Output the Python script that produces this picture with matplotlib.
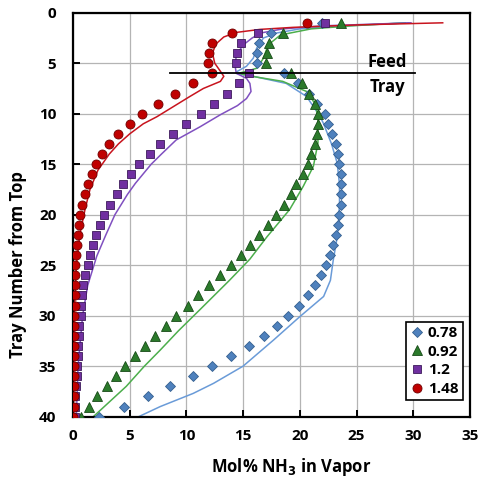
import matplotlib
matplotlib.use("Agg")
import matplotlib.pyplot as plt

plt.rcParams['font.family'] = ['Open Sans', 'DejaVu Sans']
plt.rcParams['font.weight'] = 'bold'

# ---- data ----
trays = list(range(1, 41))

labels = ['0.78', '0.92', '1.2', '1.48']

# measured points (mol% NH3 in vapor, one per tray)
pts_078 = [22.0, 17.5, 16.4, 16.25, 16.2, 18.6, 19.8, 20.8, 21.5, 22.2,
           22.5, 22.8, 23.2, 23.4, 23.5, 23.6, 23.6, 23.6, 23.6, 23.5,
           23.4, 23.2, 22.95, 22.65, 22.3, 21.9, 21.3, 20.7, 19.9, 19.0,
           18.0, 16.8, 15.5, 13.9, 12.3, 10.6, 8.6, 6.6, 4.5, 2.3]
pts_092 = [23.6, 18.5, 17.3, 17.1, 17.0, 19.2, 20.2, 20.8, 21.3, 21.6,
           21.6, 21.5, 21.3, 21.0, 20.75, 20.3, 19.7, 19.2, 18.6, 17.9,
           17.2, 16.4, 15.6, 14.8, 13.9, 13.0, 12.0, 11.05, 10.1, 9.1,
           8.2, 7.2, 6.35, 5.47, 4.6, 3.76, 2.97, 2.15, 1.41, 0.7]
pts_120 = [22.2, 16.3, 14.8, 14.5, 14.4, 15.5, 14.6, 13.6, 12.4, 11.3,
           10.0, 8.85, 7.7, 6.8, 5.85, 5.1, 4.4, 3.85, 3.26, 2.76,
           2.38, 2.06, 1.73, 1.53, 1.32, 1.06, 0.91, 0.82, 0.71, 0.68,
           0.56, 0.53, 0.47, 0.42, 0.37, 0.32, 0.27, 0.22, 0.18, 0.14]
pts_148 = [20.6, 14.0, 12.3, 12.0, 11.9, 12.3, 10.6, 9.0, 7.5, 6.1,
           5.0, 4.0, 3.2, 2.56, 2.03, 1.65, 1.35, 1.06, 0.82, 0.65,
           0.53, 0.44, 0.33, 0.26, 0.22, 0.19, 0.17, 0.15, 0.14, 0.13,
           0.12, 0.11, 0.10, 0.09, 0.08, 0.07, 0.06, 0.05, 0.05, 0.04]

# model curves (tray, mol%)
line_078_tray = [1.0, 1.3, 1.6, 2.0, 2.5, 3.5, 4.5, 5.3, 5.8, 6.0, 6.3, 7.0,
                 8.3, 10.3, 11.0, 13.0, 14.9, 17.0, 18.9, 21.0, 22.2, 24.5,
                 26.5, 28.1, 30.1, 32.4, 35.0, 36.7, 37.7, 39.0, 40.0]
line_078_x = [29.6, 24.0, 20.0, 18.0, 16.8, 16.2, 15.9, 15.3, 14.5, 14.4,
              15.9, 18.8, 20.6, 21.8, 22.1, 22.8, 23.3, 23.5, 23.5, 23.4,
              23.3, 22.95, 22.7, 22.1, 20.0, 17.7, 15.0, 12.4, 10.6, 7.7, 5.8]

line_092_tray = [1.0, 1.3, 1.6, 2.2, 3.2, 4.5, 5.5, 5.8, 6.0, 6.3, 6.8, 7.8,
                 9.1, 10.5, 11.6, 12.9, 15.2, 17.2, 19.5, 22.2, 24.4, 26.5,
                 29.4, 31.5, 33.4, 35.0, 37.0, 40.0]
line_092_x = [29.3, 24.5, 21.0, 18.3, 17.2, 16.8, 16.2, 15.3, 14.6, 15.8,
              18.5, 20.6, 21.4, 21.6, 21.6, 21.6, 21.2, 20.3, 19.1, 17.1,
              15.6, 13.8, 11.2, 9.3, 7.7, 6.3, 4.7, 1.8]

line_120_tray = [1.0, 1.3, 1.6, 2.0, 2.5, 3.2, 4.2, 5.3, 6.0, 6.5, 7.0, 7.8,
                 8.5, 9.2, 10.1, 11.3, 12.6, 14.0, 15.0, 16.9, 18.0, 20.0,
                 22.0, 24.1, 27.0, 30.0, 35.0, 40.0]
line_120_x = [29.8, 22.0, 18.5, 16.6, 15.8, 15.0, 14.4, 14.3, 14.4, 15.3,
              15.6, 15.7, 15.3, 14.5, 13.0, 11.2, 9.1, 7.8, 6.9, 5.5, 4.8,
              3.7, 2.9, 2.1, 1.3, 0.85, 0.45, 0.3]

line_148_tray = [1.0, 1.2, 1.45, 1.65, 1.95, 2.4, 3.1, 4.0, 5.0, 5.8, 6.3,
                 6.8, 7.5, 8.3, 9.3, 10.3, 11.0, 12.0, 13.0, 14.0, 15.6,
                 17.5, 19.5, 22.0, 25.0, 30.0, 35.0, 40.0]
line_148_x = [32.6, 25.3, 19.4, 16.5, 14.4, 13.3, 12.6, 12.3, 12.5, 13.0,
              13.3, 13.0, 11.5, 10.3, 8.85, 7.4, 6.2, 5.0, 4.0, 3.2, 2.2,
              1.5, 1.06, 0.6, 0.3, 0.1, 0.05, 0.03]

feed_tray = 6
feed_x = [8.55, 30.2]

# ---- styling ----
series = [
    (pts_078, line_078_tray, line_078_x, 'D', '#4f81bd', '#35608f', '#6a9bd8', 5.5),
    (pts_092, line_092_tray, line_092_x, '^', '#2b7a2b', '#174a17', '#4cae4c', 7.5),
    (pts_120, line_120_tray, line_120_x, 's', '#7030a0', '#3d1a5a', '#8050c0', 6.0),
    (pts_148, line_148_tray, line_148_x, 'o', '#c00000', '#6e0000', '#c8141e', 6.5),
]

fig = plt.figure(figsize=(4.8, 4.8), dpi=100)
ax = fig.add_axes([0.152, 0.132, 0.827, 0.8415])

for (pts, lt, lx, mk, fc, ec, lc, ms), lab in zip(series, labels):
    ax.plot(lx, lt, color=lc, lw=1.1, zorder=2)
for (pts, lt, lx, mk, fc, ec, lc, ms), lab in zip(series, labels):
    ax.plot(pts, trays, linestyle='none', marker=mk, markersize=ms,
            markerfacecolor=fc, markeredgecolor=ec, markeredgewidth=0.6,
            label=lab, zorder=3)

ax.plot(feed_x, [feed_tray, feed_tray], color='black', lw=1.3, zorder=4)
ax.text(27.7, 4.85, 'Feed', ha='center', va='center', fontsize=12,
        fontweight='bold', zorder=5)
ax.text(27.7, 7.4, 'Tray', ha='center', va='center', fontsize=12,
        fontweight='bold', zorder=5)

ax.set_xlim(0, 35)
ax.set_ylim(40, 0)
ax.set_xticks(range(0, 36, 5))
ax.set_yticks(range(0, 41, 5))
ax.grid(True, color='#b4b4b4', lw=0.9)
ax.set_axisbelow(True)

for s in ax.spines.values():
    s.set_linewidth(1.6)
    s.set_color('black')

ax.tick_params(axis='both', direction='in', length=5, width=1.4,
               labelsize=11, top=False, right=False)
ax.tick_params(axis='x', pad=9)
ax.tick_params(axis='y', pad=12)
for lbl in ax.get_xticklabels() + ax.get_yticklabels():
    lbl.set_fontweight('bold')

ax.set_xlabel('Mol% NH$_3$ in Vapor', fontsize=12, fontweight='bold', va='center')
ax.xaxis.set_label_coords(0.549, -0.124)
ax.set_ylabel('Tray Number from Top', fontsize=12, fontweight='bold',
              va='center', ha='center')
ax.yaxis.set_label_coords(-0.139, 0.3755)

leg = ax.legend(loc='lower right', bbox_to_anchor=(0.982, 0.04),
                borderaxespad=0, fancybox=False, edgecolor='black',
                framealpha=1, fontsize=11, handlelength=0.8,
                handletextpad=0.3, labelspacing=0.3, borderpad=0.3,
                prop={'weight': 'bold', 'size': 11})
leg.get_frame().set_linewidth(1.2)

fig.savefig('out.png', dpi=100)
